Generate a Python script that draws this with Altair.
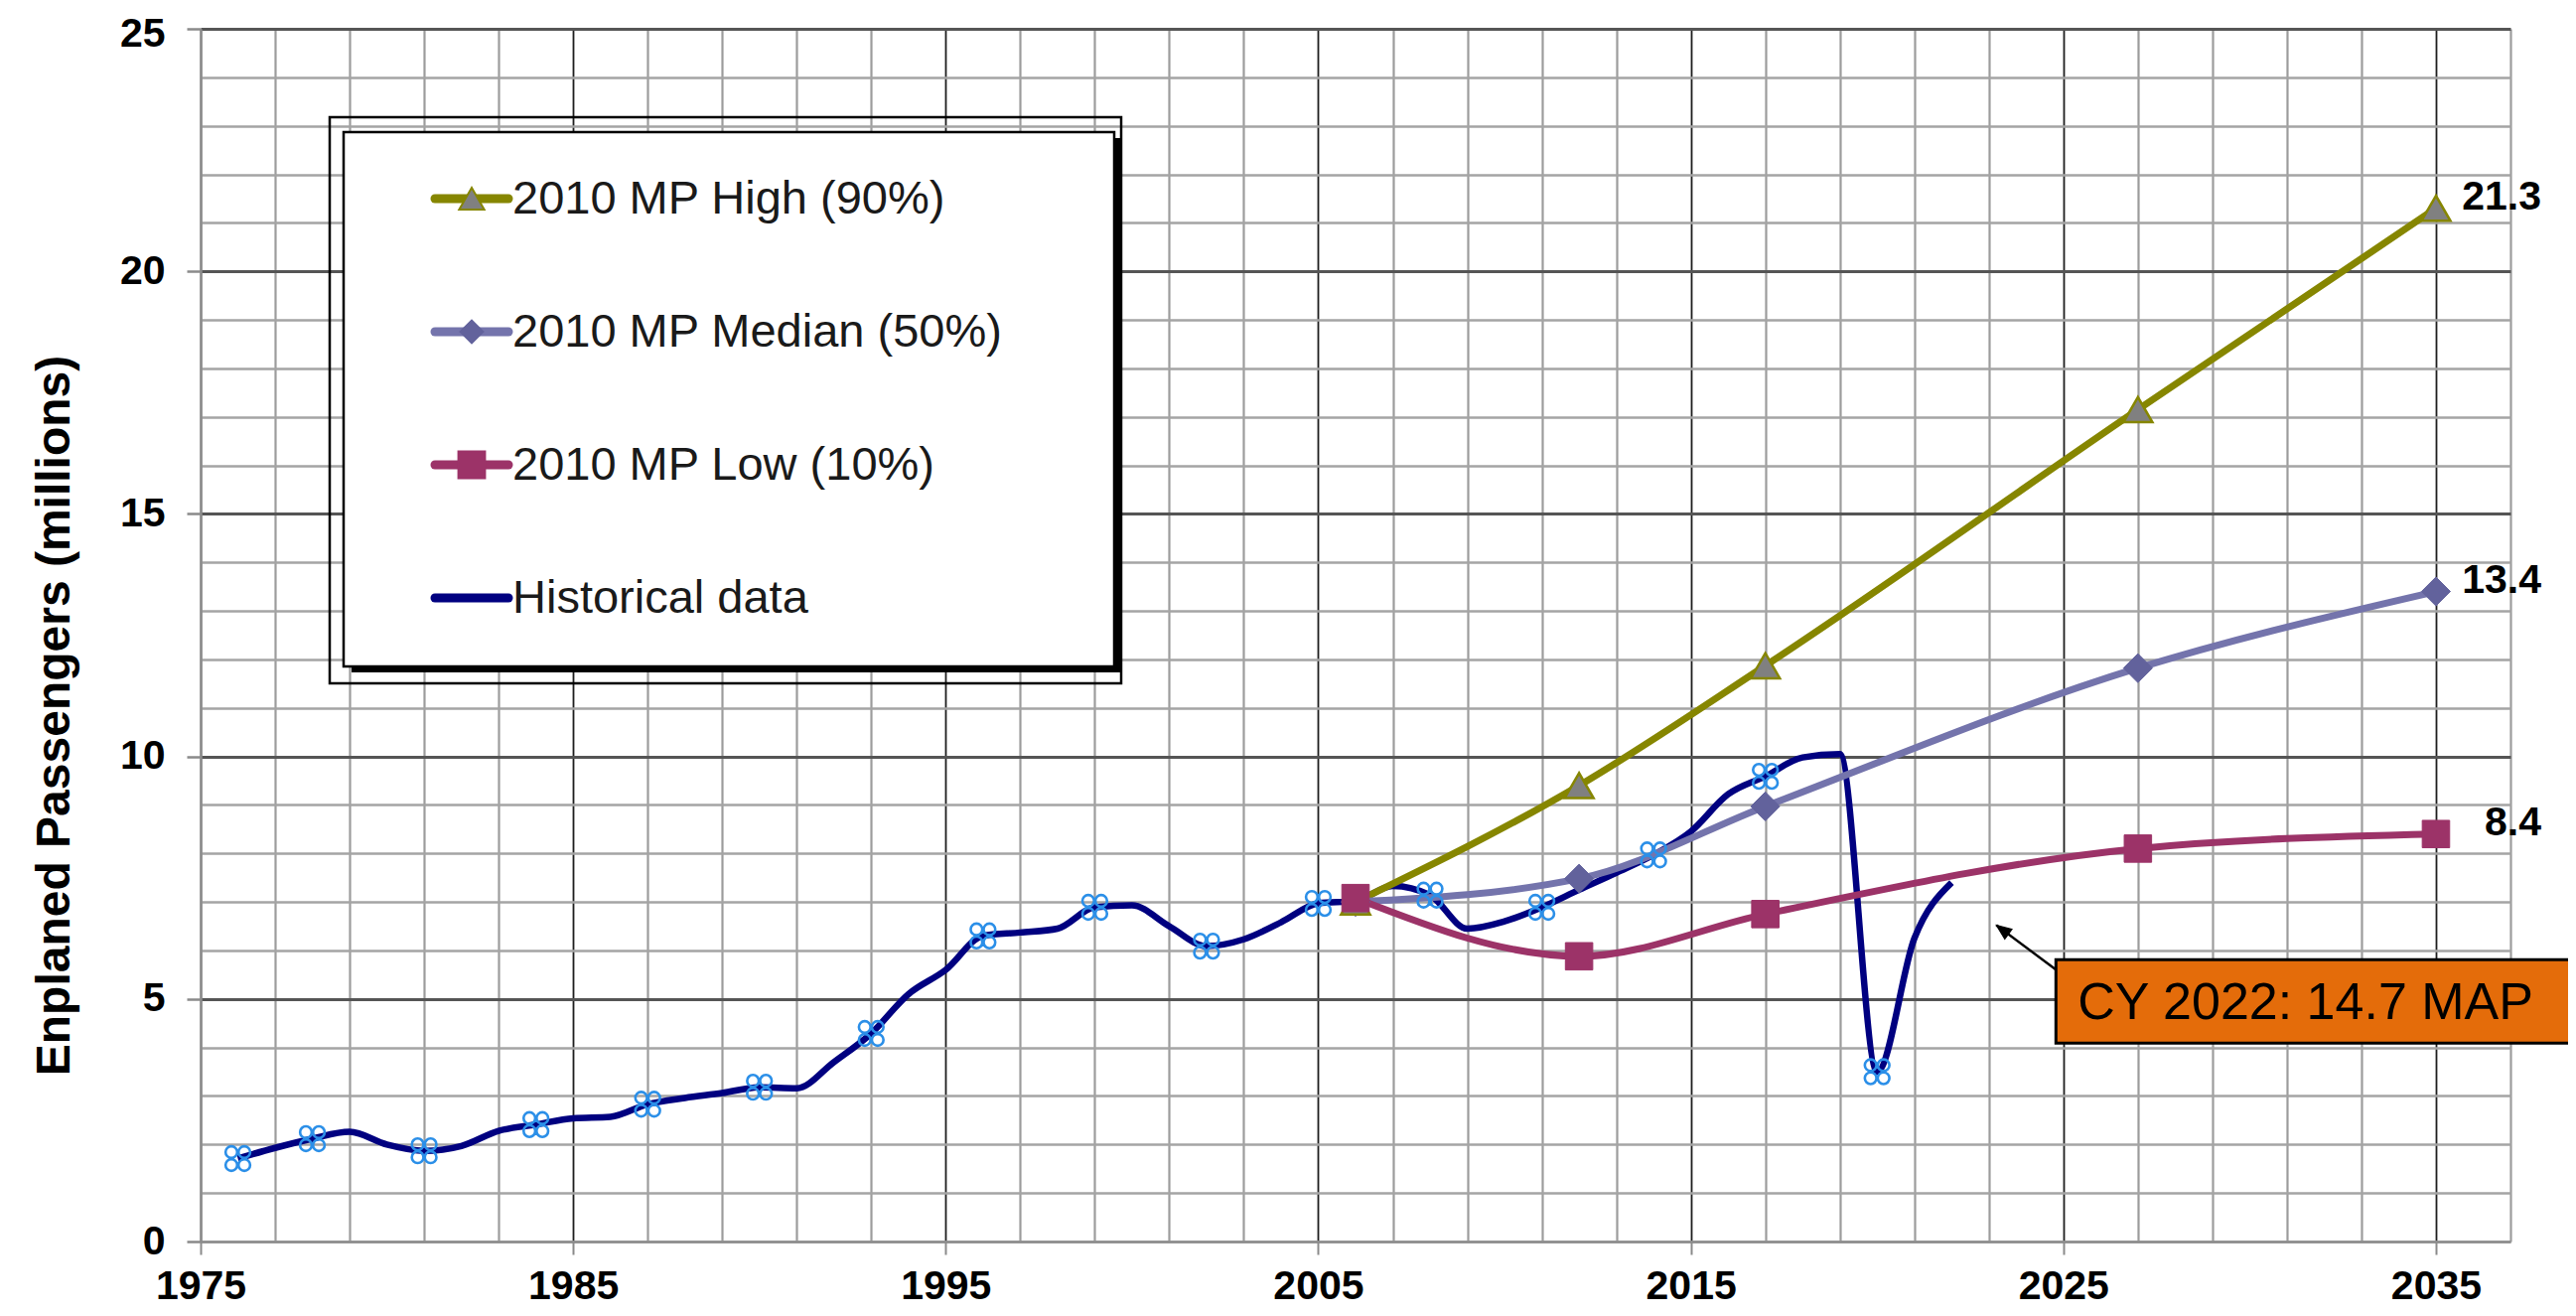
import altair as alt
import pandas as pd

# ---------------- data ----------------
proj_years = [2006, 2012, 2017, 2027, 2035]
high_vals = [7.0, 9.4, 11.87, 17.15, 21.3]
median_vals = [7.0, 7.48, 8.97, 11.82, 13.4]
low_vals = [7.08, 5.88, 6.75, 8.1, 8.4]

hist_years = list(range(1976, 2023))
hist_vals = [1.71, 1.93, 2.12, 2.26, 2.00, 1.87, 1.97, 2.28, 2.41, 2.54,
             2.57, 2.83, 2.96, 3.06, 3.18, 3.16, 3.70, 4.29, 5.10, 5.60,
             6.30, 6.37, 6.45, 6.89, 6.93, 6.50, 6.09, 6.23, 6.58, 6.97,
             7.02, 7.33, 7.14, 6.45, 6.60, 6.89, 7.25, 7.60, 7.97, 8.45,
             9.22, 9.59, 9.98, 10.05, 3.50, 6.25, 7.40]
hist_marker_years = [1976, 1978, 1981, 1984, 1987, 1990, 1993, 1996, 1999,
                     2002, 2005, 2008, 2011, 2014, 2017, 2020]

series_names = ["2010 MP High (90%)", "2010 MP Median (50%)", "2010 MP Low (10%)", "Historical data"]
series_colors = ["#868600", "#7474ac", "#9c3368", "#000080"]

ann_text = "CY 2022: 14.7 MAP"
ann_box_years = [2024.8, 2038.7]
ann_box_values = [4.09, 5.81]
arrow_tail = [2024.95, 5.52]
arrow_tip = [2023.2, 6.52]

y_title = "Enplaned Passengers (millions)"

# ---------------- tables ----------------
hist_df = pd.DataFrame({"year": hist_years, "value": hist_vals})
lookup = dict(zip(hist_years, hist_vals))
hist_mk_df = pd.DataFrame({"year": hist_marker_years,
                           "value": [lookup[y] for y in hist_marker_years]})
proj_df = pd.concat([
    pd.DataFrame({"series": series_names[0], "year": proj_years, "value": high_vals}),
    pd.DataFrame({"series": series_names[1], "year": proj_years, "value": median_vals}),
    pd.DataFrame({"series": series_names[2], "year": proj_years, "value": low_vals}),
], ignore_index=True)
end_df = proj_df[proj_df["year"] == proj_years[-1]]

FONT = "Liberation Sans"

xs = alt.Scale(domain=[1975, 2037], nice=False, zero=False)
ys = alt.Scale(domain=[0, 25], nice=False, zero=False)

xaxis = alt.Axis(
    values=list(range(1975, 2038, 2)), format="d",
    labelExpr="datum.value % 10 == 5 ? datum.label : ''",
    title=None, grid=True,
    gridColor={"condition": {"test": "datum.value % 10 == 5 && datum.value > 1975", "value": "#1e1e1e"}, "value": "#9c9c9c"},
    gridWidth={"condition": {"test": "datum.value % 10 == 5 && datum.value > 1975", "value": 1.8}, "value": 2.2},
    tickColor={"condition": {"test": "datum.value % 10 == 5", "value": "#8a8a8a"}, "value": "transparent"},
    tickSize=13, tickWidth=2, domainColor="#8c8c8c", domainWidth=2.5,
    labelFont=FONT, labelFontWeight="bold", labelFontSize=41, labelColor="black",
    labelPadding=12, labelFlush=False, labelOverlap=False,
)
yaxis = alt.Axis(
    values=list(range(0, 26)),
    labelExpr="datum.value % 5 == 0 ? datum.label : ''",
    title=y_title, grid=True,
    gridColor={"condition": {"test": "datum.value % 5 == 0 && datum.value > 0", "value": "#555555"}, "value": "#a4a4a4"},
    gridWidth={"condition": {"test": "datum.value % 5 == 0 && datum.value > 0", "value": 3}, "value": 2.5},
    tickColor={"condition": {"test": "datum.value % 5 == 0", "value": "#8a8a8a"}, "value": "transparent"},
    tickSize=14, tickWidth=2.5, domainColor="#8c8c8c", domainWidth=2.5,
    labelFont=FONT, labelFontWeight="bold", labelFontSize=41, labelColor="black",
    labelPadding=22, labelOverlap=False, labelFlush=False,
    labelOffset={"condition": {"test": "datum.value == 25", "value": 5}, "value": 0},
    titleFont=FONT, titleFontWeight="bold", titleFontSize=48, titleColor="black",
    titleAngle=270, titleX=-147, titleY=691, titleAlign="center", titleBaseline="middle",
)


def X(f="year"):
    return alt.X(f"{f}:Q", scale=xs, axis=xaxis)


def Y(f="value"):
    return alt.Y(f"{f}:Q", scale=ys, axis=yaxis)


layers = []

# historical line
layers.append(alt.Chart(hist_df).mark_line(color=series_colors[3], strokeWidth=6.5,
                                           interpolate="monotone").encode(x=X(), y=Y()))
# projection lines
layers.append(alt.Chart(proj_df).mark_line(strokeWidth=7, interpolate="monotone").encode(
    x=X(), y=Y(),
    color=alt.Color("series:N", scale=alt.Scale(domain=series_names[:3], range=series_colors[:3]), legend=None),
))

# projection markers
layers.append(alt.Chart(proj_df[proj_df.series == series_names[1]]).mark_point(
    shape="diamond", filled=True, fill="#62629c", stroke="#62629c", strokeWidth=1, size=850, opacity=1
).encode(x=X(), y=Y()))
layers.append(alt.Chart(proj_df[proj_df.series == series_names[0]]).mark_point(
    shape="triangle-up", filled=True, fill="#808080", stroke="#868600", strokeWidth=2.5, size=850, opacity=1
).encode(x=X(), y=Y()))
layers.append(alt.Chart(proj_df[proj_df.series == series_names[2]]).mark_point(
    shape="square", filled=True, fill="#9c3368", stroke="#9c3368", strokeWidth=1, size=760, opacity=1
).encode(x=X(), y=Y()))

# historical markers: four small loops
r = 0.45
quat = ""
for cx, cy in [(-0.5, -0.5), (0.5, -0.5), (-0.5, 0.5), (0.5, 0.5)]:
    quat += f"M{cx - r},{cy} a{r},{r} 0 1,0 {2 * r},0 a{r},{r} 0 1,0 {-2 * r},0 Z "
layers.append(alt.Chart(hist_mk_df).mark_point(
    shape=quat.strip(), filled=False, stroke="#2b8fe8", strokeWidth=2.6, size=680, opacity=1
).encode(x=X(), y=Y()))

# end value labels
layers.append(alt.Chart(end_df).mark_text(
    align="right", baseline="middle", dx=106, dy=-11, font=FONT, fontWeight="bold",
    fontSize=41, color="black"
).encode(x=X(), y=Y(), text=alt.Text("value:Q", format=".1f")))

# annotation arrow + box
arrow_df = pd.DataFrame({"year": [arrow_tail[0]], "value": [arrow_tail[1]],
                         "year2": [arrow_tip[0]], "value2": [arrow_tip[1]]})
layers.append(alt.Chart(arrow_df).mark_rule(color="black", strokeWidth=2.5).encode(
    x=X(), y=Y(), x2="year2:Q", y2="value2:Q"))
tip_df = pd.DataFrame({"year": [arrow_tip[0]], "value": [arrow_tip[1]]})
layers.append(alt.Chart(tip_df).mark_point(
    shape="M0,0 L0.65,1.6 L-0.65,1.6 Z", filled=True, fill="black", stroke="black",
    strokeWidth=1, size=360, angle=306.6, opacity=1
).encode(x=X(), y=Y()))
box_df = pd.DataFrame({"year": [ann_box_years[0]], "year2": [ann_box_years[1]],
                       "value": [ann_box_values[0]], "value2": [ann_box_values[1]]})
layers.append(alt.Chart(box_df).mark_rect(fill="#e46c0a", stroke="black", strokeWidth=3).encode(
    x=X(), x2="year2:Q", y=Y(), y2="value2:Q"))
txt_df = pd.DataFrame({"year": [ann_box_years[0]], "value": [sum(ann_box_values) / 2], "t": [ann_text]})
layers.append(alt.Chart(txt_df).mark_text(
    align="left", baseline="middle", dx=22, dy=2, font=FONT, fontSize=52, color="black"
).encode(x=X(), y=Y(), text="t:N"))

# ---------------- legend (decoration, pixel placed) ----------------
one = pd.DataFrame({"k": [0]})
layers.append(alt.Chart(one).mark_rect(fill=None, stroke="black", strokeWidth=2.5).encode(
    x=alt.value(130), x2=alt.value(927), y=alt.value(89), y2=alt.value(659)))
layers.append(alt.Chart(one).mark_rect(fill="black").encode(
    x=alt.value(152), x2=alt.value(928), y=alt.value(110), y2=alt.value(648)))
layers.append(alt.Chart(one).mark_rect(fill="white", stroke="black", strokeWidth=2.5).encode(
    x=alt.value(144), x2=alt.value(920), y=alt.value(104), y2=alt.value(642)))

leg_top, leg_gap = 171, 134
leg_marks = [
    dict(shape="triangle-up", fill="#808080", stroke="#868600", size=640),
    dict(shape="diamond", fill="#62629c", stroke="#62629c", size=520),
    dict(shape="square", fill="#9c3368", stroke="#9c3368", size=720),
    None,
]
for i, name in enumerate(series_names):
    yy = leg_top + i * leg_gap
    layers.append(alt.Chart(one).mark_rule(color=series_colors[i], strokeWidth=9, strokeCap="round").encode(
        x=alt.value(236), x2=alt.value(310), y=alt.value(yy)))
    if leg_marks[i]:
        m = leg_marks[i]
        layers.append(alt.Chart(one).mark_point(
            shape=m["shape"], filled=True, fill=m["fill"], stroke=m["stroke"], strokeWidth=2,
            size=m["size"], opacity=1).encode(x=alt.value(273), y=alt.value(yy)))
    layers.append(alt.Chart(one).mark_text(
        text=name, align="left", baseline="middle", font=FONT, fontSize=47, color="#1a1a1a"
    ).encode(x=alt.value(314), y=alt.value(yy + 1)))

chart = alt.layer(*layers).properties(
    width=2326, height=1221,
    padding={"left": 194, "top": 21, "right": 58, "bottom": 67},
    autosize=alt.AutoSizeParams(type="none"),
    background="white",
).configure_view(stroke=None)

chart.save("out.html", embed_options={"renderer": "svg", "actions": False})
